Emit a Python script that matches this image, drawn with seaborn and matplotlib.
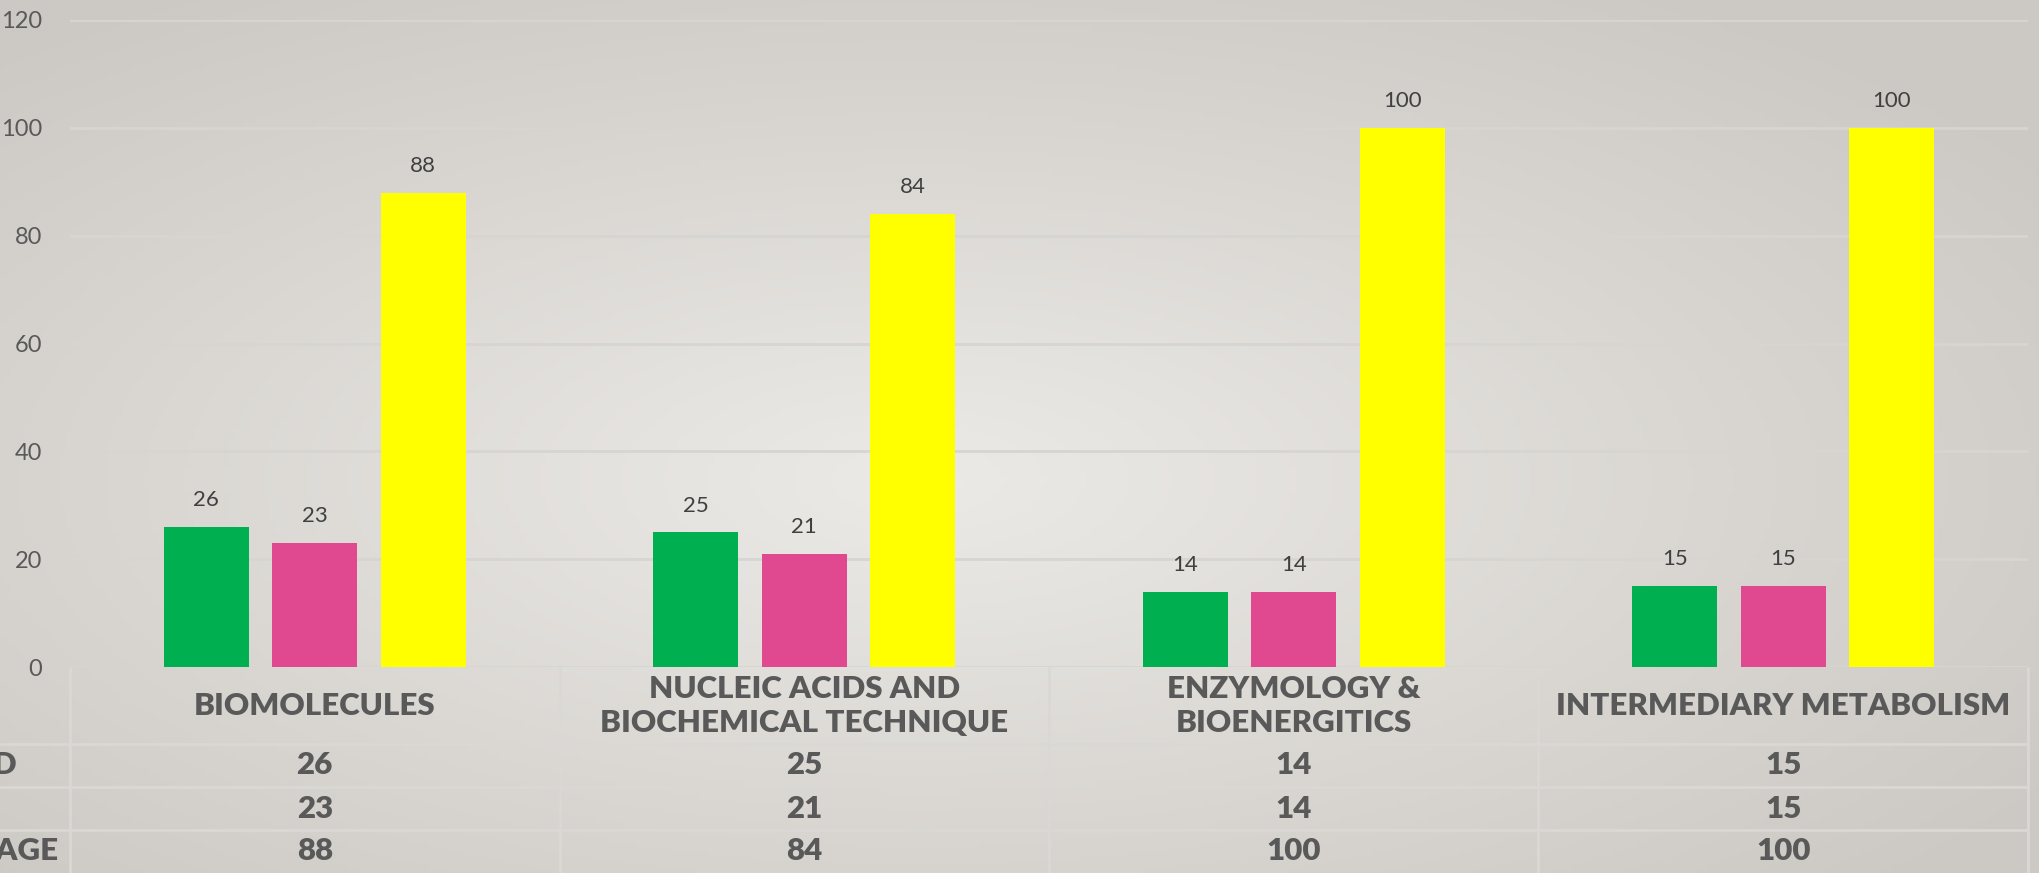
import numpy as np
import pandas as pd
import matplotlib
matplotlib.use('Agg')
import matplotlib.pyplot as plt
import matplotlib.transforms as mtransforms
import seaborn as sns

categories = ['BIOMOLECULES', 'NUCLEIC ACIDS AND\nBIOCHEMICAL TECHNIQUE',
              'ENZYMOLOGY &\nBIOENERGITICS', 'INTERMEDIARY METABOLISM']
series_names = ['ALLOTTED', 'TAUGHT', 'PERCENTAGE']
allotted = [26, 25, 14, 15]
taught = [23, 21, 14, 15]
percentage = [88, 84, 100, 100]
colors = ['#00B050', '#E0488F', '#FFFF00']
y_ticks = [0, 20, 40, 60, 80, 100, 120]

data = pd.DataFrame({
    'category': categories * 3,
    'series': [s for s in series_names for _ in categories],
    'value': allotted + taught + percentage,
})

sns.set_style('white')
plt.rcParams['font.family'] = ['Lato', 'DejaVu Sans']

W, H = 2040, 873
fig = plt.figure(figsize=(W / 100, H / 100), dpi=100)

# gradient background like the slide
bg = fig.add_axes([0, 0, 1, 1], zorder=-10)
gx, gy = np.meshgrid(np.linspace(0, 1, 400), np.linspace(0, 1, 200))
dist = np.sqrt(((gx - 0.45) / 0.9) ** 2 + ((gy - 0.55) / 0.9) ** 2)
dist = np.clip(dist / 0.75, 0, 1)
light = np.array([0.925, 0.918, 0.905])
dark = np.array([0.80, 0.785, 0.765])
img = light[None, None, :] * (1 - dist[..., None]) + dark[None, None, :] * dist[..., None]
bg.imshow(img, aspect='auto', extent=[0, 1, 0, 1], origin='upper')
bg.axis('off')

ax = fig.add_axes([70 / W, 1 - 667 / H, (2028 - 70) / W, (667 - 20) / H])
ax.patch.set_alpha(0)

sns.barplot(data=data, x='category', y='value', hue='series',
            palette=colors, width=0.665, gap=0.214, saturation=1,
            linewidth=0, edgecolor='none',
            legend=False, ax=ax, zorder=3)

for cont in ax.containers:
    ax.bar_label(cont, padding=12, fontsize=16, color='#404040')

ax.set_ylim(0, 120)
ax.set_xlim(-0.5, len(categories) - 0.5)
ax.set_yticks(y_ticks)
ax.yaxis.grid(True, color='#d6d5d2', linewidth=2)
ax.set_axisbelow(True)
for s in ax.spines.values():
    s.set_visible(False)
ax.tick_params(axis='y', length=0, pad=20, labelsize=17, labelcolor='#595959')
ax.set_xticks([])
ax.set_xlabel('')
ax.set_ylabel('')

# data table under the chart
tr = mtransforms.blended_transform_factory(ax.transData, fig.transFigure)
line_col = '#d9d8d5'
top = 1 - 668 / H
row_lines = [1 - 744 / H, 1 - 787 / H, 1 - 830 / H]
for i in range(len(categories) + 1):
    ax.plot([i - 0.5, i - 0.5], [0, top], transform=tr, color=line_col,
            lw=2, clip_on=False)
x_left = ax.transData.inverted().transform((0, 0))[0]
for yy in row_lines:
    ax.plot([x_left, len(categories) - 0.5], [yy, yy], transform=tr,
            color=line_col, lw=2, clip_on=False)

txt = dict(transform=tr, ha='center', va='center', fontsize=22.5,
           fontweight='heavy', color='#595959', clip_on=False)
for i, cat in enumerate(categories):
    ax.text(i, 1 - 706 / H, cat, linespacing=1.3, **txt)
rows = [allotted, taught, percentage]
row_centres = [1 - 765.5 / H, 1 - 808.5 / H, 1 - 851.5 / H]
for vals, yc in zip(rows, row_centres):
    for i, v in enumerate(vals):
        ax.text(i, yc, str(v), **txt)

# row labels, mostly cut off at the left edge as in the slide
for name, yc in zip(series_names, row_centres):
    fig.text(-144 / W, yc, name, ha='left', va='center', fontsize=22.5,
             fontweight='heavy', color='#595959')

fig.savefig('out.png', dpi=100)
